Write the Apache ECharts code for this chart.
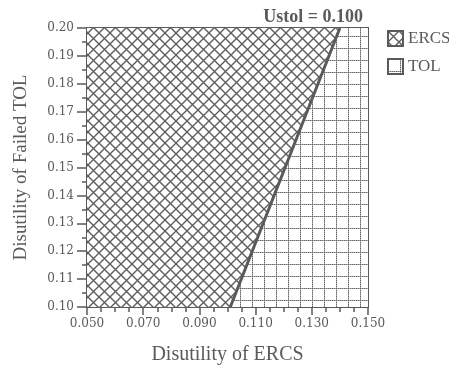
<!DOCTYPE html>
<html>
<head>
<meta charset="utf-8">
<script src="https://cdn.jsdelivr.net/npm/echarts@6/dist/echarts.min.js"></script>
<style>
  html, body { margin: 0; padding: 0; background: #fff; }
  #chart { width: 449px; height: 370px; }
</style>
</head>
<body>
<div id="chart"></div>
<script>
// region outlines (ERCS preferred left of the boundary, TOL right of it)
const ercsX = [0.050, 0.101, 0.140, 0.050]
const ercsY = [0.10, 0.10, 0.20, 0.20]
const tolX = [0.101, 0.150, 0.150, 0.140]
const tolY = [0.10, 0.10, 0.20, 0.20]
const boundaryX = [0.101, 0.140]
const boundaryY = [0.10, 0.20]
const xLabels = ['0.050', '0.070', '0.090', '0.110', '0.130', '0.150']
const yLabels = ['0.10', '0.11', '0.12', '0.13', '0.14', '0.15', '0.16', '0.17', '0.18', '0.19', '0.20']

const ink = '#5a5a5a'
const serif = 'Liberation Serif, serif'
const tickFont = 'DejaVu Serif, serif'

function crossPattern() {
  const c = document.createElement('canvas')
  c.width = c.height = 11
  const ctx = c.getContext('2d')
  ctx.fillStyle = '#fff'
  ctx.fillRect(0, 0, 11, 11)
  ctx.strokeStyle = '#5e5e5e'
  ctx.lineWidth = 1.4
  ctx.beginPath()
  ctx.moveTo(0, 0); ctx.lineTo(11, 11)
  ctx.moveTo(11, 0); ctx.lineTo(0, 11)
  ctx.stroke()
  return { image: c, repeat: 'repeat' }
}

function gridPattern() {
  const c = document.createElement('canvas')
  c.width = c.height = 12
  const ctx = c.getContext('2d')
  ctx.fillStyle = '#fff'
  ctx.fillRect(0, 0, 12, 12)
  ctx.fillStyle = '#666'
  for (let i = 0; i < 12; i += 2) {
    ctx.fillRect(i, 0, 1, 1)
    ctx.fillRect(0, i, 1, 1)
  }
  ctx.fillStyle = '#aaa'
  for (let i = 1; i < 12; i += 2) {
    ctx.fillRect(i, 0, 1, 1)
    ctx.fillRect(0, i, 1, 1)
  }
  return { image: c, repeat: 'repeat' }
}

const ercsFill = crossPattern()
const tolFill = gridPattern()

function regionSeries(name, xs, ys, fill) {
  return {
    name: name,
    type: 'custom',
    itemStyle: { color: fill, borderColor: ink, borderWidth: 1 },
    data: xs.map((x, i) => [x, ys[i]]),
    renderItem: (params, api) => {
      if (params.dataIndex !== 0) return
      const pts = xs.map((x, i) => api.coord([x, ys[i]]))
      return { type: 'polygon', shape: { points: pts }, style: { fill: fill } }
    },
    silent: true,
    z: 1,
  }
}

const chart = echarts.init(document.getElementById('chart'), null, { renderer: 'canvas' })

chart.setOption({
  animation: false,
  backgroundColor: '#fff',
  title: {
    text: 'Ustol = 0.100',
    right: 81,
    top: 3,
    textStyle: { fontFamily: serif, fontWeight: 'bold', fontSize: 18, color: ink },
  },
  legend: {
    data: ['ERCS', 'TOL'],
    orient: 'vertical',
    left: 382,
    top: 25,
    icon: 'rect',
    itemWidth: 15,
    itemHeight: 15,
    itemGap: 11,
    textStyle: { fontFamily: serif, fontSize: 17, color: ink },
  },
  grid: {
    left: 87, right: 81, top: 28, bottom: 63,
    show: true, borderColor: ink, borderWidth: 2,
  },
  xAxis: {
    type: 'value',
    min: 0.05,
    max: 0.15,
    interval: 0.02,
    name: 'Disutility of ERCS',
    nameLocation: 'middle',
    nameGap: 38,
    nameTextStyle: { fontFamily: serif, fontSize: 20, color: ink },
    axisLine: { lineStyle: { color: ink, width: 2 } },
    axisTick: { length: 8, lineStyle: { color: ink, width: 1.5 } },
    minorTick: { show: true, splitNumber: 4, length: 5, lineStyle: { color: ink, width: 1.5 } },
    splitLine: { show: false },
    axisLabel: {
      margin: 11,
      fontFamily: tickFont, fontSize: 12, color: ink,
      formatter: (v) => xLabels[Math.round((v - 0.05) / 0.02)] || '',
    },
  },
  yAxis: {
    type: 'value',
    min: 0.1,
    max: 0.2,
    interval: 0.01,
    name: 'Disutility of Failed TOL',
    nameLocation: 'middle',
    nameGap: 56,
    nameTextStyle: { fontFamily: serif, fontSize: 19, color: ink },
    axisLine: { lineStyle: { color: ink, width: 2 } },
    axisTick: { length: 10, lineStyle: { color: ink, width: 1.5 } },
    minorTick: { show: true, splitNumber: 2, length: 5, lineStyle: { color: ink, width: 1.5 } },
    splitLine: { show: false },
    axisLabel: {
      margin: 13,
      fontFamily: tickFont, fontSize: 12, color: ink,
      formatter: (v) => yLabels[Math.round((v - 0.1) / 0.01)] || '',
    },
  },
  series: [
    regionSeries('ERCS', ercsX, ercsY, ercsFill),
    regionSeries('TOL', tolX, tolY, tolFill),
    {
      name: 'boundary',
      type: 'line',
      data: boundaryX.map((x, i) => [x, boundaryY[i]]),
      symbol: 'none',
      lineStyle: { color: ink, width: 3 },
      silent: true,
      z: 3,
    },
  ],
})
</script>
</body>
</html>
